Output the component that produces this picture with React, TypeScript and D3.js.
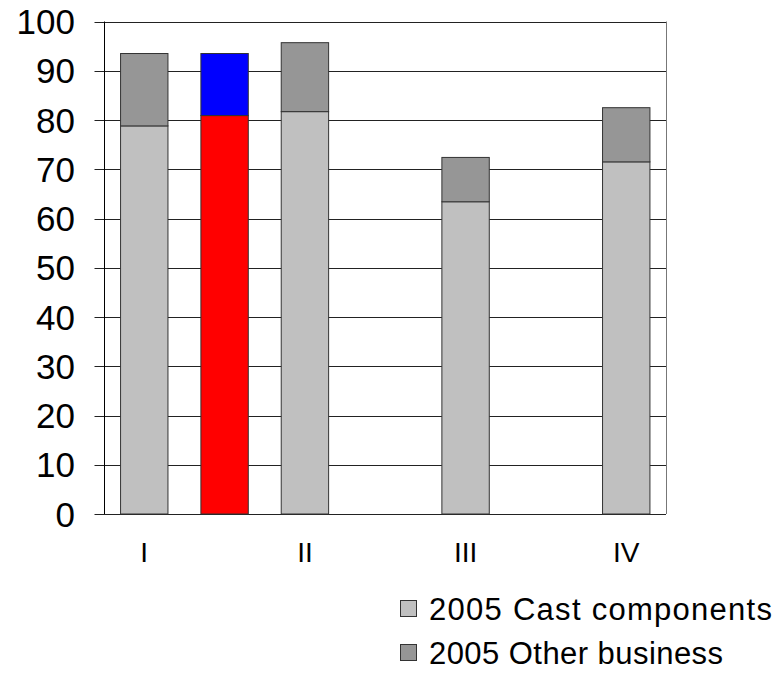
import * as d3 from "d3";

const categories = ["I", "", "II", "", "III", "", "IV"];
const castValues = [78.8, 80.9, 81.7, 0, 63.4, 0, 71.5];
const otherValues = [14.7, 12.6, 14.0, 0, 9.0, 0, 11.0];
const highlighted = [false, true, false, false, false, false, false];
const yTicks = [0, 10, 20, 30, 40, 50, 60, 70, 80, 90, 100];
const legendLabels = ["2005 Cast components", "2005 Other business"];

export default function App() {
  const width = 781;
  const height = 673;
  const left = 104.5;
  const right = 666;
  const top = 21.5;
  const bottom = 514;

  const castColor = "#c0c0c0";
  const otherColor = "#969696";
  const font = "'Liberation Sans', Arial, sans-serif";

  const x = d3
    .scaleBand<number>()
    .domain(categories.map((_, i) => i))
    .range([left, right])
    .paddingInner(0.41)
    .paddingOuter(0.2);

  const y = d3.scaleLinear().domain([0, 100]).range([bottom, top]);

  return (
    <div style={{ position: "absolute", left: 0, top: 0 }}>
      <svg width={width} height={height} style={{ display: "block", background: "#fff" }}>
        {/* Grid lines */}
        {yTicks.map((t) => (
          <line
            key={"g" + t}
            x1={left - 10}
            x2={right}
            y1={Math.round(y(t)) + 0.5}
            y2={Math.round(y(t)) + 0.5}
            stroke="#222"
            strokeWidth={1}
          />
        ))}
        {/* Plot border */}
        <line x1={right + 0.5} x2={right + 0.5} y1={y(100)} y2={y(0)} stroke="#777" />
        <line x1={left} x2={left} y1={y(100)} y2={y(0)} stroke="#000" />

        {/* Bars */}
        {categories.map((c, i) => {
          if (castValues[i] + otherValues[i] === 0) return null;
          const bx = x(i)!;
          const bw = x.bandwidth();
          const c1 = highlighted[i] ? "#ff0000" : castColor;
          const c2 = highlighted[i] ? "#0000ff" : otherColor;
          return (
            <g key={"b" + i}>
              <rect
                x={bx}
                y={y(castValues[i])}
                width={bw}
                height={y(0) - y(castValues[i])}
                fill={c1}
                stroke="#333"
                strokeWidth={1}
              />
              <rect
                x={bx}
                y={y(castValues[i] + otherValues[i])}
                width={bw}
                height={y(castValues[i]) - y(castValues[i] + otherValues[i])}
                fill={c2}
                stroke="#333"
                strokeWidth={1}
              />
            </g>
          );
        })}

        {/* Y tick labels */}
        {yTicks.map((t) => (
          <text
            key={"yl" + t}
            x={75}
            y={y(t) + 12.5}
            textAnchor="end"
            fontFamily={font}
            fontSize={35}
            fill="#000"
          >
            {t}
          </text>
        ))}

        {/* X labels */}
        {categories.map((c, i) =>
          c ? (
            <text
              key={"xl" + i}
              x={x(i)! + x.bandwidth() / 2}
              y={562}
              textAnchor="middle"
              fontFamily={font}
              fontSize={28}
              fill="#000"
            >
              {c}
            </text>
          ) : null
        )}

        {/* Legend */}
        {legendLabels.map((l, i) => (
          <g key={"lg" + i} transform={`translate(400,${600 + i * 44})`}>
            <rect
              x={0.5}
              y={0.5}
              width={16}
              height={16}
              fill={i === 0 ? castColor : otherColor}
              stroke="#333"
            />
            <text
              x={29}
              y={19.5}
              fontFamily={font}
              fontSize={31}
              textLength={i === 0 ? 343 : 294}
              lengthAdjust="spacing"
              fill="#000"
            >
              {l}
            </text>
          </g>
        ))}
      </svg>
    </div>
  );
}
